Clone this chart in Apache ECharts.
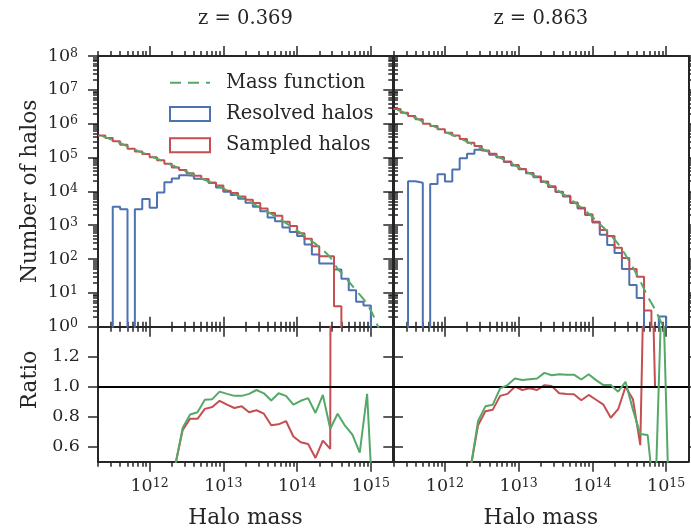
<!DOCTYPE html>
<html>
<head>
<meta charset="utf-8">
<script src="https://cdn.jsdelivr.net/npm/echarts@6/dist/echarts.min.js"></script>
<style>
  html, body { margin: 0; padding: 0; background: #ffffff; }
  #chart { width: 691px; height: 529px; }
</style>
</head>
<body>
<div id="chart"></div>
<script>
// ---- Data ---------------------------------------------------------------
// Histogram bin edges, log10(halo mass), 0.1 dex wide (41 edges -> 40 bins)
const binEdgesLog = [
  11.301, 11.401, 11.501, 11.601, 11.701, 11.801, 11.901, 12.001, 12.101, 12.201,
  12.301, 12.401, 12.501, 12.601, 12.701, 12.801, 12.901, 13.001, 13.101, 13.201,
  13.301, 13.401, 13.501, 13.601, 13.701, 13.801, 13.901, 14.001, 14.101, 14.201,
  14.301, 14.401, 14.501, 14.601, 14.701, 14.801, 14.901, 15.001, 15.101, 15.201,
  15.301
];

// z = 0.369 : halo counts per bin
const sampledLow = [
  4.5e5, 3.8e5, 3.0e5, 2.4e5, 1.8e5, 1.5e5, 1.26e5, 1.02e5, 8.3e4, 6.5e4,
  5.1e4, 4.3e4, 3.4e4, 2.9e4, 2.3e4, 1.8e4, 1.5e4, 1.05e4, 8900, 7100,
  5600, 4500, 3100, 2300, 1900, 1260, 950, 575, 400, 240,
  120, 120, 4, 0, 0, 0, 0, 0, 0, 0
];
const resolvedLow = [
  0, 0, 3500, 2950, 0, 2950, 5900, 3300, 9300, 1.86e4,
  2.4e4, 3.0e4, 2.9e4, 2.35e4, 2.1e4, 1.8e4, 1.3e4, 9800, 7800, 6000,
  4600, 3500, 2600, 1700, 1300, 850, 630, 480, 270, 135,
  74, 74, 49, 26, 12, 5.5, 4.2, 0, 0, 0
];

// z = 0.863 : halo counts per bin
const sampledHigh = [
  2.7e6, 2.1e6, 1.7e6, 1.35e6, 1.0e6, 8.5e5, 6.8e5, 5.4e5, 4.5e5, 3.5e5,
  2.75e5, 2.2e5, 1.62e5, 1.29e5, 1.02e5, 7.6e4, 6.0e4, 4.6e4, 3.5e4, 2.75e4,
  1.95e4, 1.41e4, 9800, 7400, 4700, 3300, 2100, 1260, 720, 480,
  215, 107, 51, 30, 3, 0, 0, 0, 0, 0
];
const resolvedHigh = [
  0, 0, 2.0e4, 1.8e4, 0, 1.66e4, 3.2e4, 1.95e4, 4.4e4, 9.5e4,
  1.3e5, 1.7e5, 1.5e5, 1.2e5, 1.02e5, 7.4e4, 5.8e4, 4.5e4, 3.4e4, 2.6e4,
  1.9e4, 1.35e4, 9500, 7000, 4500, 3100, 2000, 1200, 520, 260,
  150, 51, 17, 7, 0, 0, 2, 0, 0, 0
];

// Analytic mass function sampled at bin centres, log10(mass)
const mfMassLog = [
  11.35, 11.45, 11.55, 11.65, 11.75, 11.85, 11.95, 12.05, 12.15, 12.25,
  12.35, 12.45, 12.55, 12.65, 12.75, 12.85, 12.95, 13.05, 13.15, 13.25,
  13.35, 13.45, 13.55, 13.65, 13.75, 13.85, 13.95, 14.05, 14.15, 14.25,
  14.35, 14.45, 14.55, 14.65, 14.75, 14.85, 14.95, 15.05, 15.15
];
const massFunctionLow = [
  4.4e5, 3.6e5, 2.95e5, 2.4e5, 1.9e5, 1.55e5, 1.26e5, 1.02e5, 8.3e4, 6.6e4,
  5.4e4, 4.3e4, 3.4e4, 2.75e4, 2.2e4, 1.74e4, 1.35e4, 1.07e4, 8300, 6500,
  5000, 3800, 2900, 2140, 1580, 1150, 830, 590, 410, 280,
  186, 112, 52, 30, 16, 8.9, 4.7, 1.8, 0.5
];
const massFunctionHigh = [
  2.6e6, 2.1e6, 1.66e6, 1.32e6, 1.02e6, 8.3e5, 6.6e5, 5.2e5, 4.2e5, 3.3e5,
  2.6e5, 2.05e5, 1.62e5, 1.26e5, 9.8e4, 7.6e4, 5.9e4, 4.5e4, 3.4e4, 2.6e4,
  1.9e4, 1.38e4, 1.0e4, 7100, 4900, 3300, 2200, 1380, 850, 500,
  280, 132, 56, 22, 7.9, 3.2, 1.1, 0.3, 0.1
];

// Ratio curves at bin centres, log10(mass)
const ratioMassLog = [
  12.25, 12.35, 12.45, 12.55, 12.65, 12.75, 12.85, 12.95, 13.05, 13.15,
  13.25, 13.35, 13.45, 13.55, 13.65, 13.75, 13.85, 13.95, 14.05, 14.15,
  14.25, 14.35, 14.45, 14.55, 14.65, 14.75, 14.85, 14.95, 15.05
];
const ratioResolvedLow = [
  0.0, 0.48, 0.727, 0.815, 0.83, 0.913, 0.917, 0.967, 0.952, 0.939,
  0.939, 0.952, 0.978, 0.956, 0.908, 0.956, 0.939, 0.88, 0.906, 0.924,
  0.825, 0.945, 0.72, 0.82, 0.74, 0.68, 0.56, 0.952, 0.0
];
const ratioSampledLow = [
  0.0, 0.48, 0.712, 0.786, 0.786, 0.852, 0.865, 0.906, 0.88, 0.858,
  0.869, 0.83, 0.843, 0.82, 0.743, 0.749, 0.771, 0.668, 0.63, 0.618,
  0.525, 0.64, 0.585, 30, null, null, null, null, null
];
const ratioResolvedHigh = [
  0.1, 0.46, 0.771, 0.869, 0.88, 0.989, 1.011, 1.055, 1.044, 1.05,
  1.055, 1.092, 1.076, 1.083, 1.08, 1.08, 1.048, 1.083, 1.044, 1.011,
  1.011, 0.967, 1.033, 0.847, 0.684, 0.678, 0.2, 1.8, 0.0
];
const ratioSampledHigh = [
  0.1, 0.46, 0.743, 0.836, 0.847, 0.939, 0.952, 1.0, 0.978, 0.989,
  0.978, 1.01, 1.004, 0.956, 0.952, 0.95, 0.91, 0.945, 0.913, 0.88,
  0.793, 0.85, 1.0, 0.917, 0.61, 3.0, 1.0, null, null
];

// Axis ticks
const massMajorTicks = [1e12, 1e13, 1e14, 1e15];
const countMajorTicks = [1, 10, 100, 1e3, 1e4, 1e5, 1e6, 1e7, 1e8];
const ratioTicks = [0.6, 0.8, 1.0, 1.2];
const panelTitles = ['z = 0.369', 'z = 0.863'];

// ---- Styling -----------------------------------------------------------
const INK = '#262626';
const BLUE = '#4C72B0';
const GREEN = '#55A868';
const RED = '#C44E52';
const SERIF = "'DejaVu Serif', serif";
const MASS_MIN = 2e11, MASS_MAX = 2e15;
const COUNT_MIN = 1, COUNT_MAX = 1e8;
const RATIO_MIN = 0.5, RATIO_MAX = 1.4;

// Minor log ticks: 2..9 x 10^n inside the axis range
function minorLogTicks(lo, hi) {
  const out = [];
  for (let d = Math.floor(Math.log10(lo)); d <= Math.ceil(Math.log10(hi)); d++) {
    for (let k = 2; k <= 9; k++) {
      const v = k * Math.pow(10, d);
      if (v >= lo * 0.999 && v <= hi * 1.001) out.push(v);
    }
  }
  return out;
}
const massMinorTicks = minorLogTicks(MASS_MIN, MASS_MAX);
const countMinorTicks = minorLogTicks(COUNT_MIN, COUNT_MAX);

const superRich = {
  b: { fontFamily: SERIF, fontSize: 17.5, color: INK, lineHeight: 18, padding: [4, 0, 0, 0], verticalAlign: 'bottom' },
  s: { fontFamily: SERIF, fontSize: 12.5, color: INK, lineHeight: 13, verticalAlign: 'top' }
};
function powerLabel(v) {
  return '{b|10}{s|' + Math.round(Math.log10(v)) + '}';
}

// ---- Layout ------------------------------------------------------------
const PANEL_W = 295;
const LEFT0 = 98, LEFT1 = 393.3;
const TOP = 56, TOP_H = 270.7, BOT_H = 135;
const grids = [
  { left: LEFT0, top: TOP, width: PANEL_W, height: TOP_H },
  { left: LEFT1, top: TOP, width: PANEL_W, height: TOP_H },
  { left: LEFT0, top: TOP + TOP_H, width: PANEL_W, height: BOT_H },
  { left: LEFT1, top: TOP + TOP_H, width: PANEL_W, height: BOT_H }
];

const xAxes = [];
const yAxes = [];
const mainX = [];   // index of data-carrying x axis per grid
const mainY = [];

function frameLine(show) {
  return { show: show, lineStyle: { color: INK, width: 2 } };
}
function tickStyle(len, values) {
  return { show: true, inside: false, length: len, customValues: values, lineStyle: { color: INK, width: 1.5 } };
}

grids.forEach(function (g, gi) {
  const isBottom = gi >= 2;
  // Mass axes: bottom + top, major and minor
  ['bottom', 'top'].forEach(function (pos) {
    const showLabels = isBottom && pos === 'bottom';
    if (pos === 'bottom') mainX[gi] = xAxes.length;
    xAxes.push({
      type: 'log', gridIndex: gi, position: pos, min: MASS_MIN, max: MASS_MAX,
      axisLine: frameLine(true),
      axisTick: tickStyle(10, massMajorTicks),
      axisLabel: showLabels ? {
        show: true, margin: 16, customValues: massMajorTicks,
        formatter: powerLabel, rich: superRich
      } : { show: false },
      splitLine: { show: false }
    });
    xAxes.push({
      type: 'log', gridIndex: gi, position: pos, min: MASS_MIN, max: MASS_MAX,
      axisLine: { show: false },
      axisTick: tickStyle(5, massMinorTicks),
      axisLabel: { show: false },
      splitLine: { show: false }
    });
  });
  // Vertical axes: left + right
  ['left', 'right'].forEach(function (pos) {
    const showLabels = (gi === 0 || gi === 2) && pos === 'left';
    if (pos === 'left') mainY[gi] = yAxes.length;
    if (!isBottom) {
      yAxes.push({
        type: 'log', gridIndex: gi, position: pos, min: COUNT_MIN, max: COUNT_MAX,
        axisLine: frameLine(true),
        axisTick: tickStyle(10, countMajorTicks),
        axisLabel: showLabels ? {
          show: true, margin: 20, customValues: countMajorTicks,
          formatter: powerLabel, rich: superRich
        } : { show: false },
        splitLine: { show: false }
      });
      yAxes.push({
        type: 'log', gridIndex: gi, position: pos, min: COUNT_MIN, max: COUNT_MAX,
        axisLine: { show: false },
        axisTick: tickStyle(5, countMinorTicks),
        axisLabel: { show: false },
        splitLine: { show: false }
      });
    } else {
      yAxes.push({
        type: 'value', gridIndex: gi, position: pos, min: RATIO_MIN, max: RATIO_MAX,
        axisLine: frameLine(true),
        axisTick: tickStyle(10, ratioTicks),
        axisLabel: showLabels ? {
          show: true, margin: 18, customValues: ratioTicks,
          formatter: function (v) { return v.toFixed(1); },
          fontFamily: SERIF, fontSize: 17.5, color: INK
        } : { show: false },
        splitLine: { show: false }
      });
    }
  });
});

// ---- Series ------------------------------------------------------------
const ZERO_FLOOR = 1e-3;   // empty bins sit below the log axis and are clipped
function stepData(counts) {
  const pts = counts.map(function (c, i) {
    return [Math.pow(10, binEdgesLog[i]), Math.max(c, ZERO_FLOOR)];
  });
  pts.push([Math.pow(10, binEdgesLog[binEdgesLog.length - 1]), Math.max(counts[counts.length - 1], ZERO_FLOOR)]);
  return pts;
}
function curveData(xsLog, ys) {
  return xsLog.map(function (x, i) { return [Math.pow(10, x), ys[i]]; });
}

const series = [];
function histSeries(name, counts, color, gi) {
  series.push({
    name: name, type: 'line', step: 'end', xAxisIndex: mainX[gi], yAxisIndex: mainY[gi],
    data: stepData(counts), showSymbol: false, symbol: 'none', clip: true,
    lineStyle: { color: color, width: 2 }, itemStyle: { color: color },
    animation: false, z: 3
  });
}
function mfSeries(ys, gi) {
  series.push({
    name: 'Mass function', type: 'line', xAxisIndex: mainX[gi], yAxisIndex: mainY[gi],
    data: curveData(mfMassLog, ys), showSymbol: false, symbol: 'none', clip: true,
    smooth: 0.3,
    lineStyle: { color: GREEN, width: 2, type: [11, 7] }, itemStyle: { color: GREEN },
    animation: false, z: 4
  });
}
function ratioSeries(name, ys, color, gi, z) {
  series.push({
    name: name, type: 'line', xAxisIndex: mainX[gi], yAxisIndex: mainY[gi],
    data: curveData(ratioMassLog, ys), showSymbol: false, symbol: 'none', clip: true,
    connectNulls: false,
    lineStyle: { color: color, width: 2 }, itemStyle: { color: color },
    animation: false, z: z
  });
}
function unityLine(gi) {
  series.push({
    name: 'unity', type: 'line', xAxisIndex: mainX[gi], yAxisIndex: mainY[gi],
    data: [], silent: true, animation: false, z: 6,
    markLine: {
      silent: true, symbol: 'none', label: { show: false }, animation: false,
      lineStyle: { color: '#000000', width: 2, type: 'solid' },
      data: [{ yAxis: 1 }]
    }
  });
}

histSeries('Resolved halos', resolvedLow, BLUE, 0);
histSeries('Sampled halos', sampledLow, RED, 0);
mfSeries(massFunctionLow, 0);
histSeries('Resolved halos', resolvedHigh, BLUE, 1);
histSeries('Sampled halos', sampledHigh, RED, 1);
mfSeries(massFunctionHigh, 1);

ratioSeries('Sampled ratio', ratioSampledLow, RED, 2, 4);
ratioSeries('Resolved ratio', ratioResolvedLow, GREEN, 2, 5);
unityLine(2);
ratioSeries('Sampled ratio', ratioSampledHigh, RED, 3, 4);
ratioSeries('Resolved ratio', ratioResolvedHigh, GREEN, 3, 5);
unityLine(3);

// ---- Text --------------------------------------------------------------
function text(x, y, str, size, rot) {
  return {
    type: 'text', x: x, y: y, rotation: rot || 0, silent: true,
    style: { text: str, fontFamily: SERIF, fontSize: size, fill: INK, align: 'center', verticalAlign: 'middle' }
  };
}
const AXIS_TITLE = 21.7;
const graphics = [
  text(LEFT0 + PANEL_W / 2, 19, panelTitles[0], 19.5),
  text(LEFT1 + PANEL_W / 2, 19, panelTitles[1], 19.5),
  text(LEFT0 + PANEL_W / 2, 518, 'Halo mass', AXIS_TITLE),
  text(LEFT1 + PANEL_W / 2, 518, 'Halo mass', AXIS_TITLE),
  text(30, TOP + TOP_H / 2, 'Number of halos', AXIS_TITLE, Math.PI / 2),
  text(30, 380, 'Ratio', AXIS_TITLE, Math.PI / 2)
];

const chart = echarts.init(document.getElementById('chart'), null, { renderer: 'canvas' });
chart.setOption({
  backgroundColor: '#ffffff',
  animation: false,
  grid: grids,
  xAxis: xAxes,
  yAxis: yAxes,
  legend: {
    orient: 'vertical', left: 169, top: 72.7, padding: 0,
    itemWidth: 40, itemHeight: 14, itemGap: 11.3,
    textStyle: { fontFamily: SERIF, fontSize: 19.5, color: INK, lineHeight: 18, padding: [0, 0, 0, 11] },
    selectedMode: false,
    data: [
      { name: 'Mass function', itemStyle: { opacity: 0 } },
      { name: 'Resolved halos', icon: 'rect', itemStyle: { color: 'rgba(0,0,0,0)', borderColor: BLUE, borderWidth: 2 } },
      { name: 'Sampled halos', icon: 'rect', itemStyle: { color: 'rgba(0,0,0,0)', borderColor: RED, borderWidth: 2 } }
    ]
  },
  graphic: graphics,
  series: series
});
</script>
</body>
</html>
